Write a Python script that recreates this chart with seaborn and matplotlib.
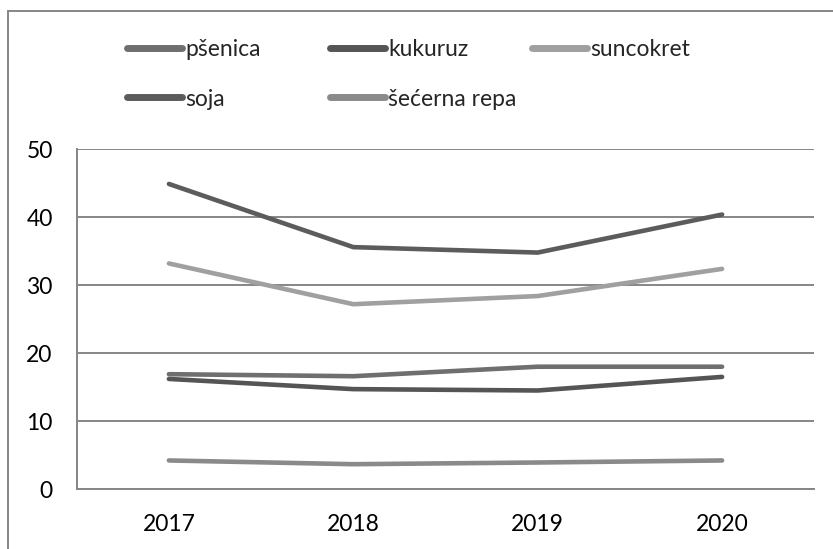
import matplotlib
matplotlib.use("Agg")
import matplotlib.pyplot as plt
import seaborn as sns
import pandas as pd
from matplotlib.lines import Line2D
from matplotlib.patches import Rectangle

years = ["2017", "2018", "2019", "2020"]
psenica = [16.9, 16.6, 18.0, 18.0]
kukuruz = [16.2, 14.7, 14.5, 16.5]
suncokret = [33.2, 27.2, 28.4, 32.4]
soja = [44.9, 35.6, 34.8, 40.4]
secerna_repa = [4.2, 3.65, 3.9, 4.2]

series_names = ["pšenica", "kukuruz", "suncokret", "soja", "šećerna repa"]
series_values = [psenica, kukuruz, suncokret, soja, secerna_repa]
colors = ["#6f6f6f", "#555555", "#a0a0a0", "#5c5c5c", "#8a8a8a"]

rows = []
for name, vals in zip(series_names, series_values):
    for i, (y, v) in enumerate(zip(years, vals)):
        rows.append({"pos": i, "year": y, "value": v, "series": name})
df = pd.DataFrame(rows)

sns.set_theme(style="white")
plt.rcParams["font.family"] = ["Lato", "DejaVu Sans"]

W, H = 833, 549
fig = plt.figure(figsize=(W / 100, H / 100), dpi=100)
ax = fig.add_axes([76.7 / W, 1 - 489 / H, (814.3 - 76.7) / W, (489 - 149.3) / H])

pal = dict(zip(series_names, colors))
sns.lineplot(data=df, x="pos", y="value", hue="series", hue_order=series_names,
             palette=pal, linewidth=3.3, ax=ax, legend=False,
             solid_capstyle="round", solid_joinstyle="miter")

gray = "#868686"
ax.set_xlim(-0.5, 3.5)
ax.set_ylim(0, 50)
ax.set_yticks(range(0, 51, 10))
ax.yaxis.grid(True, color=gray, linewidth=1.4)
ax.set_axisbelow(True)
ax.set_xticks([-0.5, 0.5, 1.5, 2.5, 3.5])
ax.set_xticklabels([])
ax.set_xticks(range(len(years)), minor=True)
ax.set_xticklabels(years, minor=True)
ax.tick_params(axis="x", which="major", length=6, width=1.4, color=gray, direction="out")
ax.tick_params(axis="x", which="minor", length=0, pad=18, labelsize=16.5, labelcolor="black")
ax.tick_params(axis="y", length=6.3, width=1.4, color=gray, direction="out",
               pad=11, labelsize=16.5, labelcolor="black")
for s in ["top", "right"]:
    ax.spines[s].set_visible(False)
for s in ["left", "bottom"]:
    ax.spines[s].set_color(gray)
    ax.spines[s].set_linewidth(1.4)
ax.set_xlabel("")
ax.set_ylabel("")

# legend entries laid out like the reference (uniform column widths)
positions = [(126.7, 50), (330, 50), (532, 50), (126.7, 99), (330, 99)]
for name, col, (px, py) in zip(series_names, colors, positions):
    h = Line2D([0], [0], color=col, linewidth=5, solid_capstyle="round")
    leg = fig.legend(handles=[h], labels=[name], loc="center left",
                     bbox_to_anchor=(px / W, 1 - py / H), bbox_transform=fig.transFigure,
                     frameon=False, fontsize=16.5, handlelength=2.4,
                     handletextpad=0.15, borderpad=0, borderaxespad=0)

# outer chart border
fig.add_artist(Rectangle((8 / W, -0.2), 1.2, (1 - 11 / H) + 0.2,
                         transform=fig.transFigure, fill=False,
                         edgecolor=gray, linewidth=1.4, clip_on=False))

fig.savefig("out.png", dpi=100)
